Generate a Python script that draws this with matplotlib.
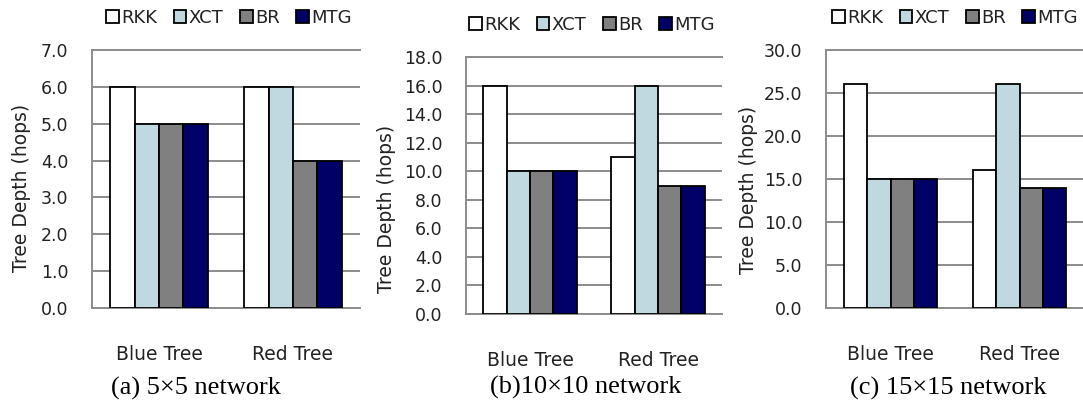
import matplotlib

matplotlib.use("Agg")
import matplotlib.pyplot as plt
import numpy as np
from matplotlib.patches import Patch

plt.rcParams["font.family"] = ["DejaVu Sans"]

W, H = 1083, 404

categories = ["Blue Tree", "Red Tree"]
series = ["RKK", "XCT", "BR", "MTG"]
colors = ["#ffffff", "#c0d8e0", "#808080", "#000066"]

depth_5x5 = {"RKK": [6, 6], "XCT": [5, 6], "BR": [5, 4], "MTG": [5, 4]}
depth_10x10 = {"RKK": [16, 11], "XCT": [10, 16], "BR": [10, 9], "MTG": [10, 9]}
depth_15x15 = {"RKK": [26, 16], "XCT": [15, 26], "BR": [15, 14], "MTG": [15, 14]}

panels = [
    # data, ymax, ystep, axes box (left, top, right, bottom) px, caption
    (depth_5x5, 7.0, 1.0, (92, 50, 360, 308), "(a) 5\u00d75 network"),
    (depth_10x10, 18.0, 2.0, (466, 57, 722, 314), "(b)10\u00d710 network"),
    (depth_15x15, 30.0, 5.0, (826, 50, 1084, 308), "(c) 15\u00d715 network"),
]
ylabel_pos = [(22, 188), (387, 209), (748, 190)]
legend_pos = [(229, 18), (592, 25), (955, 18)]
caption_pos = [(196, 388), (586, 387), (948, 388)]

TEXT = "#222222"
GRID = "#8c8c8c"


def fx(px):
    return px / W


def fy(py):
    return 1 - py / H


fig = plt.figure(figsize=(W / 100, H / 100), dpi=100)

bar_w = 1 / 5.5
x = np.arange(len(categories))

for i, (data, ymax, ystep, box, caption) in enumerate(panels):
    l, t, r, b = box
    ax = fig.add_axes([fx(l), fy(b), fx(r - l), fy(t) - fy(b)])
    for j, name in enumerate(series):
        ax.bar(
            x + (j - 1.5) * bar_w,
            data[name],
            width=bar_w,
            color=colors[j],
            edgecolor="black",
            linewidth=1.3,
            zorder=3,
        )
    ax.set_xlim(-0.5, 1.5)
    ax.set_ylim(0, ymax)
    ticks = np.arange(0, ymax + ystep / 2, ystep)
    ax.set_yticks(ticks)
    ax.set_yticklabels([f"{v:.1f}" for v in ticks])
    ax.set_xticks(x)
    ax.set_xticklabels(categories)
    ax.tick_params(axis="y", length=0, pad=17, labelsize=12.5, labelcolor=TEXT)
    ax.tick_params(axis="x", length=0, pad=27, labelsize=13.5, labelcolor=TEXT)
    ax.yaxis.grid(True, color=GRID, linewidth=1.4, zorder=0)
    ax.set_axisbelow(True)
    for side in ["left", "top", "bottom"]:
        ax.spines[side].set_color(GRID)
        ax.spines[side].set_linewidth(1.4)
    ax.spines["right"].set_visible(False)

    fig.text(
        fx(ylabel_pos[i][0]),
        fy(ylabel_pos[i][1]),
        "Tree Depth (hops)",
        rotation=90,
        ha="center",
        va="center",
        fontsize=13.5,
        color=TEXT,
    )

    handles = [
        Patch(facecolor=colors[j], edgecolor="black", linewidth=1.3, label=series[j])
        for j in range(len(series))
    ]
    fig.legend(
        handles=handles,
        loc="center",
        bbox_to_anchor=(fx(legend_pos[i][0]), fy(legend_pos[i][1])),
        ncol=4,
        frameon=False,
        fontsize=13,
        handlelength=0.7,
        handleheight=0.7,
        handletextpad=0.15,
        columnspacing=0.9,
        borderpad=0,
        labelcolor=TEXT,
    )

    fig.text(
        fx(caption_pos[i][0]),
        fy(caption_pos[i][1]),
        caption,
        ha="center",
        va="center",
        fontsize=19,
        family="Liberation Serif",
        color="black",
    )

fig.savefig("out.png", dpi=100)
